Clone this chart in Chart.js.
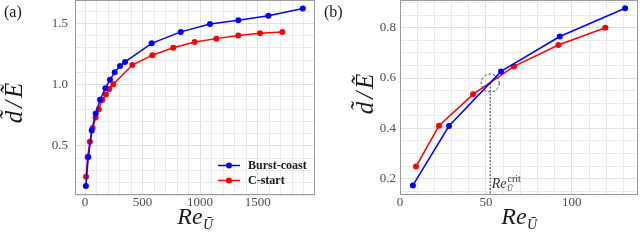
<!DOCTYPE html>
<html>
<head>
<meta charset="utf-8">
<script src="https://cdn.jsdelivr.net/npm/chart.js@4/dist/chart.umd.min.js"></script>
<style>
  html, body { margin: 0; padding: 0; background: #fff; }
  .panel { position: absolute; top: 0; width: 320px; height: 247px; }
</style>
</head>
<body>
<div class="panel" style="left:0"><canvas id="chartA" width="320" height="247"></canvas></div>
<div class="panel" style="left:320px"><canvas id="chartB" width="320" height="247"></canvas></div>
<script>
// Burst-coast swimming
const burstRe = [7.5, 28.5, 58.8, 93, 131, 177, 217, 258, 304, 348, 579, 832, 1086, 1332, 1593, 1892];
const burstD = [0.173, 0.409, 0.626, 0.765, 0.877, 0.97, 1.04, 1.10, 1.152, 1.185, 1.337, 1.43, 1.494, 1.525, 1.562, 1.62];
// C-start swimming
const cstartRe = [9.3, 22.7, 42.5, 66.3, 92.2, 119.5, 150, 182, 211, 246, 411, 585, 767, 953, 1141, 1332, 1520, 1714];
const cstartD = [0.248, 0.41, 0.535, 0.646, 0.731, 0.80, 0.875, 0.92, 0.965, 1.003, 1.16, 1.24, 1.30, 1.348, 1.375, 1.40, 1.419, 1.43];
const seriesNames = ['Burst-coast', 'C-start'];

// tick labels
const ticksAx = [0, 500, 1000, 1500];
const ticksAy = [0.5, 1.0, 1.5];
const ticksBx = [0, 50, 100];
const ticksBy = [0.2, 0.4, 0.6, 0.8];

// crossing point shown in panel (b)
const critRe = 52.5;
const critD = 0.58;
const zoomMaxRe = 138;

const colors = ['#0000ff', '#ff0000'];
const serif = '"Liberation Serif", "DejaVu Serif", serif';

function toPoints(xs, ys, maxX) {
    return xs.map((x, i) => ({ x: x, y: ys[i] })).filter(p => p.x <= maxX);
}

function drawRe(ctx, x, y, size, sup) {
    ctx.font = 'italic ' + size + 'px ' + serif;
    ctx.fillText('Re', x, y);
    const w = ctx.measureText('Re').width;
    ctx.font = 'italic ' + Math.round(size * 0.58) + 'px ' + serif;
    ctx.fillText('\u016A', x + w + 0.5, y + size * 0.2);
    if (sup) {
        ctx.font = Math.round(size * 0.72) + 'px ' + serif;
        ctx.fillText(sup, x + w + 1, y - size * 0.42);
    }
}

function reWidth(ctx, size) {
    ctx.font = 'italic ' + size + 'px ' + serif;
    const w = ctx.measureText('Re').width;
    ctx.font = 'italic ' + Math.round(size * 0.58) + 'px ' + serif;
    return w + ctx.measureText('\u016A').width;
}

function drawYTitle(ctx, x, cy) {
    ctx.save();
    ctx.translate(x, cy);
    ctx.rotate(-Math.PI / 2);
    ctx.font = 'italic 25px ' + serif;
    ctx.textBaseline = 'alphabetic';
    const parts = ['d\u0303', '/', '\u1EBC'];
    const gap = 3;
    const widths = parts.map(p => ctx.measureText(p).width);
    let px = -(widths.reduce((s, w) => s + w, 0) + gap * (parts.length - 1)) / 2;
    parts.forEach((p, i) => {
        ctx.fillText(p, px, 0);
        px += widths[i] + gap;
    });
    ctx.restore();
}

const panelDecor = {
    id: 'panelDecor',
    beforeDatasetsDraw(chart) {
        const { ctx, chartArea: a } = chart;
        ctx.save();
        ctx.strokeStyle = '#9a9a9a';
        ctx.lineWidth = 1;
        ctx.strokeRect(a.left + 0.5, a.top + 0.5, a.width - 1, a.height - 1);
        ctx.restore();
    },
    afterDatasetsDraw(chart, args, opts) {
        const { ctx, chartArea: a, scales } = chart;
        ctx.save();
        ctx.fillStyle = '#1a1a1a';
        ctx.textBaseline = 'alphabetic';

        // panel tag
        ctx.font = '16px ' + serif;
        ctx.fillText(opts.tag, 4, 17);

        // axis titles
        const rw = reWidth(ctx, 24);
        drawRe(ctx, (a.left + a.right) / 2 - rw / 2, a.bottom + 29, 24);
        drawYTitle(ctx, opts.yTitleX, opts.yTitleY);

        if (opts.crit) {
            const cx = scales.x.getPixelForValue(critRe);
            const cy = scales.y.getPixelForValue(critD);
            ctx.strokeStyle = '#333';
            ctx.lineWidth = 1;
            ctx.setLineDash([2, 1.5]);
            ctx.beginPath();
            ctx.moveTo(cx, cy);
            ctx.lineTo(cx, a.bottom);
            ctx.stroke();
            ctx.strokeStyle = '#3a3a3a';
            ctx.setLineDash([2.5, 2]);
            ctx.beginPath();
            ctx.arc(cx, cy, 9, 0, Math.PI * 2);
            ctx.stroke();
            ctx.setLineDash([]);
            ctx.fillStyle = '#333';
            drawRe(ctx, cx + 1.5, a.bottom - 7, 14, 'crit');
        }

        if (opts.legend) {
            chart.data.datasets.forEach((ds, i) => {
                const y = a.bottom - 29.5 + i * 15;
                const x0 = a.right - 97;
                ctx.strokeStyle = ds.borderColor;
                ctx.lineWidth = 1.5;
                ctx.beginPath();
                ctx.moveTo(x0, y);
                ctx.lineTo(x0 + 22, y);
                ctx.stroke();
                ctx.fillStyle = ds.borderColor;
                ctx.beginPath();
                ctx.arc(x0 + 11, y, 3, 0, Math.PI * 2);
                ctx.fill();
                ctx.fillStyle = '#1a1a1a';
                ctx.font = 'bold 12px ' + serif;
                ctx.textBaseline = 'middle';
                ctx.fillText(ds.label, x0 + 30, y + 0.5);
            });
        }
        ctx.restore();
    }
};

function makeAxis(min, max, step, labels, digits, fixSize, pad) {
    const isLabel = v => labels.some(l => Math.abs(l - v) < step / 100);
    return {
        type: 'linear',
        min: min,
        max: max,
        afterFit: s => {
            fixSize(s);
            s.paddingTop = 0;
            s.paddingBottom = 0;
            s.paddingLeft = 0;
            s.paddingRight = 0;
        },
        border: { display: false },
        grid: {
            color: ctx => isLabel(ctx.tick.value) ? '#e0e0e0' : '#eaeaea',
            lineWidth: 1,
            drawTicks: false
        },
        ticks: {
            stepSize: step,
            includeBounds: false,
            maxTicksLimit: 200,
            autoSkip: false,
            maxRotation: 0,
            padding: pad,
            color: '#4d4d4d',
            font: { family: serif, size: 13 },
            callback: v => isLabel(v) ? v.toFixed(digits) : ''
        }
    };
}

function makeChart(id, maxRe, scales, padding, decor) {
    const ctx = document.getElementById(id).getContext('2d');
    return new Chart(ctx, {
        type: 'scatter',
        plugins: [panelDecor],
        data: {
            datasets: [
                { label: seriesNames[0], data: toPoints(burstRe, burstD, maxRe) },
                { label: seriesNames[1], data: toPoints(cstartRe, cstartD, maxRe) }
            ].map((ds, i) => Object.assign(ds, {
                showLine: true,
                borderColor: colors[i],
                backgroundColor: colors[i],
                borderWidth: 1.5,
                pointRadius: 3,
                pointBorderWidth: 0
            }))
        },
        options: {
            responsive: false,
            animation: false,
            layout: { padding: padding, autoPadding: false },
            scales: scales,
            plugins: {
                legend: { display: false },
                tooltip: { enabled: false },
                panelDecor: decor
            }
        }
    });
}

const xFit = s => { s.height = 18; };
const yFit = s => { s.width = 40; };

const scalesA = {
    x: makeAxis(-87, 1998, 100, ticksAx, 0, xFit, 0),
    y: makeAxis(0.1, 1.69, 0.1, ticksAy, 1, yFit, 7)
};

const scalesB = {
    x: makeAxis(0, zoomMaxRe + 0.5, 10, ticksBx, 0, xFit, 0),
    y: makeAxis(0.135, 0.91, 0.05, ticksBy, 1, yFit, 4)
};

makeChart('chartA', Infinity, scalesA, { left: 35, right: 5, top: 0, bottom: 34 },
    { tag: '(a)', legend: true, crit: false, yTitleX: 22, yTitleY: 103 });
makeChart('chartB', zoomMaxRe, scalesB, { left: 40, right: 2, top: 0, bottom: 34 },
    { tag: '(b)', legend: false, crit: true, yTitleX: 53, yTitleY: 94 });
</script>
</body>
</html>
